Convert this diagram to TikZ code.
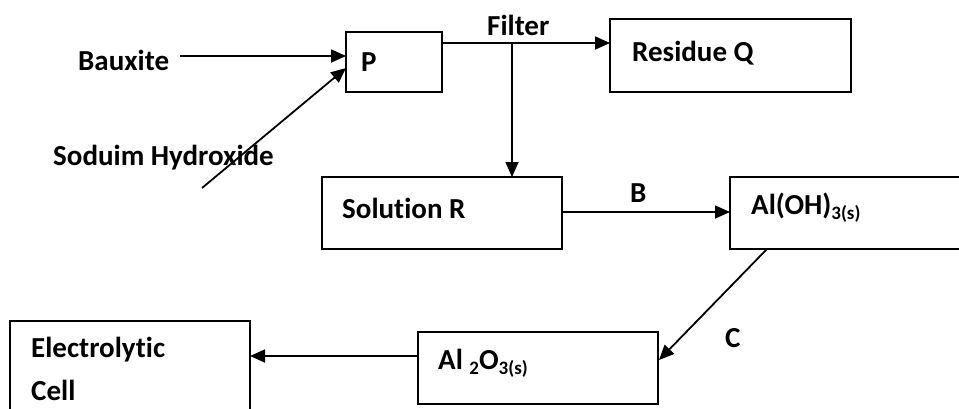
\documentclass[tikz,border=0pt]{standalone}
\usepackage{fontspec}
\setmainfont[RawFeature={-liga}]{Carlito}
\usetikzlibrary{arrows.meta}
\tikzset{
  box/.style={draw=black, line width=1.8pt, minimum width=#1, inner sep=0pt, outer sep=0pt},
  lbl/.style={font=\fontsize{29}{34}\selectfont\bfseries, inner sep=0pt, anchor=west},
  conn/.style={line width=1.8pt, -{Triangle[length=15pt,width=13pt]}},
}
\newcommand{\sbs}[1]{\raisebox{-0.35ex}{\fontsize{19}{22}\selectfont #1}}
\begin{document}
\begin{tikzpicture}[x=1pt,y=-1pt]
\useasboundingbox (0,0) rectangle (959,408);
\clip (0,0) rectangle (959,408);
% boxes
\node[box=96pt, minimum height=60pt] (P) at (394,62) {};
\node[box=241pt, minimum height=73pt] (Q) at (730.5,55.5) {};
\node[box=240pt, minimum height=72pt] (R) at (442,213) {};
\node[box=260pt, minimum height=72pt] (AOH) at (860,213) {};
\node[box=240pt, minimum height=72pt] (AO) at (538,368) {};
\node[box=240pt, minimum height=110pt] (EC) at (130,376) {};
% labels
\node[lbl] (tP) at (361,62) {P};
\node[lbl] (tQ) at (632,53) {Residue Q};
\node[lbl] (tR) at (342,208) {Solution R};
\node[lbl] (tAOH) at (751,208) {Al(OH)\sbs{3(s)}};
\node[lbl] (tAO) at (438,363) {Al \sbs{2}O\sbs{3(s)}};
\node[lbl] (tE1) at (31,350) {Electrolytic};
\node[lbl] (tE2) at (31,390) {Cell};
\node[lbl] (tB) at (78,60) {Bauxite};
\node[lbl] (tS) at (53,158) {Soduim Hydroxide};
\node[lbl] (tF) at (487,25) {Filter};
\node[lbl] (tBB) at (630,193) {B};
\node[lbl] (tC) at (725,338) {C};
% connector points
\coordinate (b0) at (180,56);
\coordinate (s0) at (202,188);
\coordinate (f0) at (442,43);
\coordinate (fj) at (512,43);
% connectors
\draw[conn] (b0) -- (P.west |- b0);
\draw[conn] (s0) -- (346,68);
\draw[conn] (f0) -- (Q.west |- f0);
\draw[conn] (fj) -- (fj |- R.north);
\draw[conn] (R.east) ++(0,-1) -- (AOH.west |- 0,212);
\draw[conn] (767,249) -- (659,360);
\draw[conn] (AO.west |- 0,356) -- (EC.east |- 0,356);
\end{tikzpicture}
\end{document}
